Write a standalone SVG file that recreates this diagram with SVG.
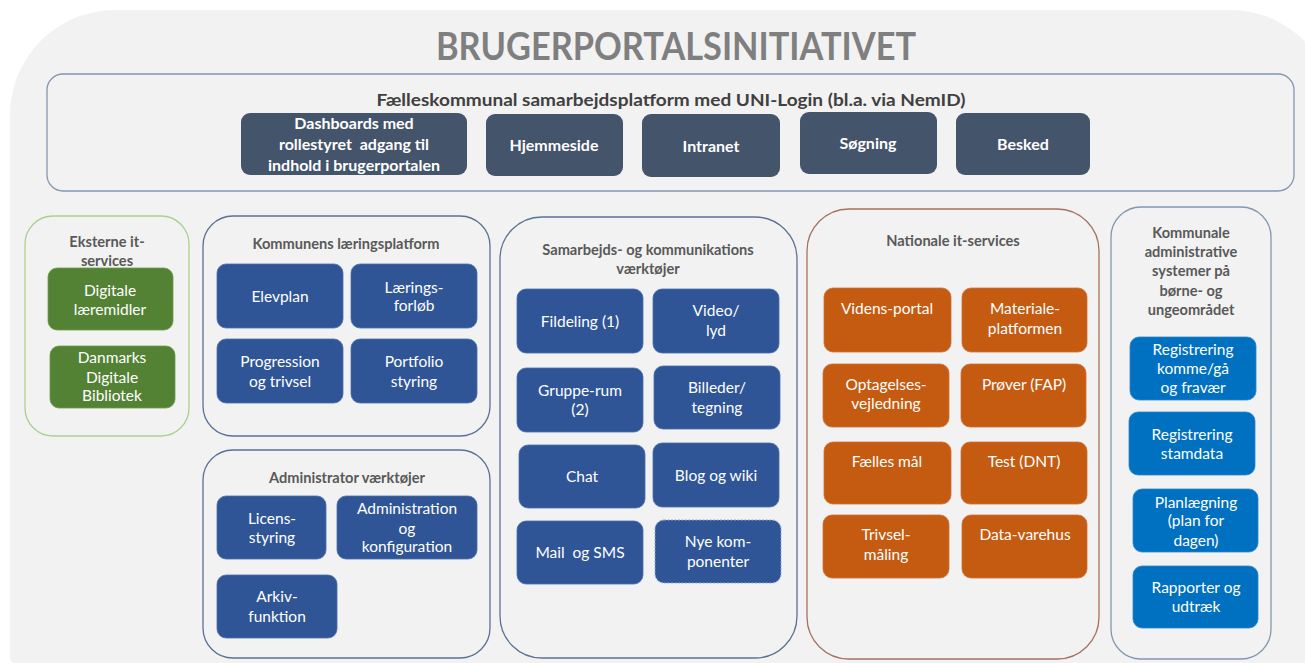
<svg xmlns="http://www.w3.org/2000/svg" width="1305" height="663" viewBox="0 0 1305 663">
<style>
.nt{font-family:Lato,"Liberation Sans",sans-serif;font-size:15.5px;fill:#ffffff;text-anchor:middle}
.tb{font-weight:bold;font-size:16px}
.pre{white-space:pre}
.gt{font-family:Lato,"Liberation Sans",sans-serif;font-size:14.6px;font-weight:bold;fill:#595959;text-anchor:middle}
.dark{fill:#44546a}
.blue{fill:#2f5597;stroke:#4a6eae;stroke-width:0.8}
.green{fill:#548235;stroke:#6a9a48;stroke-width:0.8}
.orange{fill:#c55a11;stroke:#d0703a;stroke-width:0.8}
.lblue{fill:#0070c0;stroke:#2a86cc;stroke-width:0.8}
.grp{fill:none;stroke-width:1.3}
</style>
<rect width="1305" height="663" fill="#ffffff"/>
<path d="M10,115 A105,105 0 0 1 115,10 L1230,10 A105,105 0 0 1 1335,115 L1335,663 L16,663 Q10,663 10,657 Z" fill="#f2f2f2"/>
<text x="676" y="60" font-family="Lato,'Liberation Sans',sans-serif" font-size="38" font-weight="bold" fill="#7f7f7f" text-anchor="middle" textLength="480" lengthAdjust="spacingAndGlyphs">BRUGERPORTALSINITIATIVET</text>

<g id="top-platform">
<rect x="47" y="74" width="1247" height="117" rx="16" class="grp" stroke="#8497b0"/>
<text x="671" y="106" font-family="Lato,'Liberation Sans',sans-serif" font-size="17" font-weight="bold" fill="#404040" text-anchor="middle" textLength="589" lengthAdjust="spacingAndGlyphs">Fælleskommunal samarbejdsplatform med UNI-Login (bl.a. via NemID)</text>
</g>
<g id="n-dashboards"><rect x="241" y="113" width="226" height="62" rx="9" class="dark"/>
<text class="nt tb pre"><tspan x="354" y="129">Dashboards med</tspan><tspan x="354" y="150">rollestyret  adgang til</tspan><tspan x="354" y="171">indhold i brugerportalen</tspan></text></g>
<g id="n-hjemmeside"><rect x="486" y="114" width="137" height="62" rx="9" class="dark"/><text class="nt tb" x="554" y="151">Hjemmeside</text></g>
<g id="n-intranet"><rect x="642" y="114" width="138" height="63" rx="9" class="dark"/><text class="nt tb" x="711" y="152">Intranet</text></g>
<g id="n-soegning"><rect x="800" y="112" width="137" height="62" rx="9" class="dark"/><text class="nt tb" x="868" y="149">Søgning</text></g>
<g id="n-besked"><rect x="956" y="113" width="134" height="62" rx="9" class="dark"/><text class="nt tb" x="1023" y="150">Besked</text></g>

<g id="g-eksterne">
<rect x="25" y="216" width="164" height="220" rx="28" class="grp" stroke="#a9d18e"/>
<text class="gt"><tspan x="107" y="247">Eksterne it-</tspan><tspan x="107" y="266">services</tspan></text>
</g>
<g id="n-digitale"><rect x="48" y="268" width="125" height="62" rx="9" class="green"/><text class="nt"><tspan x="110" y="296">Digitale</tspan><tspan x="110" y="315">læremidler</tspan></text></g>
<g id="n-danmarks"><rect x="50" y="346" width="125" height="62" rx="9" class="green"/><text class="nt"><tspan x="112" y="363">Danmarks</tspan><tspan x="112" y="383">Digitale</tspan><tspan x="112" y="401">Bibliotek</tspan></text></g>

<g id="g-kommunens">
<rect x="203" y="216" width="287" height="220" rx="30" class="grp" stroke="#5b7194"/>
<text class="gt" x="346" y="249">Kommunens læringsplatform</text>
</g>
<g id="n-elevplan"><rect x="217" y="264" width="126" height="64" rx="9" class="blue"/><text class="nt" x="280" y="302">Elevplan</text></g>
<g id="n-laerings"><rect x="351" y="264" width="126" height="64" rx="9" class="blue"/><text class="nt"><tspan x="414" y="293">Lærings-</tspan><tspan x="414" y="311">forløb</tspan></text></g>
<g id="n-progression"><rect x="217" y="339" width="126" height="64" rx="9" class="blue"/><text class="nt"><tspan x="280" y="367">Progression</tspan><tspan x="280" y="387">og trivsel</tspan></text></g>
<g id="n-portfolio"><rect x="351" y="339" width="126" height="64" rx="9" class="blue"/><text class="nt"><tspan x="414" y="367">Portfolio</tspan><tspan x="414" y="387">styring</tspan></text></g>

<g id="g-admin">
<rect x="203" y="450" width="287" height="208" rx="30" class="grp" stroke="#5b7194"/>
<text class="gt" x="347" y="483">Administrator værktøjer</text>
</g>
<g id="n-licens"><rect x="217" y="496" width="109" height="63" rx="9" class="blue"/><text class="nt"><tspan x="272" y="524">Licens-</tspan><tspan x="272" y="543">styring</tspan></text></g>
<g id="n-administration"><rect x="337" y="496" width="140" height="63" rx="9" class="blue"/><text class="nt"><tspan x="407" y="514">Administration</tspan><tspan x="407" y="534">og</tspan><tspan x="407" y="552">konfiguration</tspan></text></g>
<g id="n-arkiv"><rect x="217" y="575" width="120" height="63" rx="9" class="blue"/><text class="nt"><tspan x="277" y="602">Arkiv-</tspan><tspan x="277" y="622">funktion</tspan></text></g>

<g id="g-samarbejds">
<rect x="500" y="217" width="297" height="441" rx="42" class="grp" stroke="#5b7194"/>
<text class="gt"><tspan x="648" y="255">Samarbejds- og kommunikations</tspan><tspan x="648" y="274">værktøjer</tspan></text>
</g>
<g id="n-fildeling"><rect x="517" y="289" width="126" height="64" rx="9" class="blue"/><text class="nt" x="580" y="327">Fildeling (1)</text></g>
<g id="n-video"><rect x="653" y="289" width="126" height="64" rx="9" class="blue"/><text class="nt"><tspan x="716" y="316">Video/</tspan><tspan x="716" y="336">lyd</tspan></text></g>
<g id="n-gruppe"><rect x="517" y="368" width="126" height="64" rx="9" class="blue"/><text class="nt"><tspan x="580" y="396">Gruppe-rum</tspan><tspan x="580" y="415">(2)</tspan></text></g>
<g id="n-billeder"><rect x="654" y="366" width="126" height="63" rx="9" class="blue"/><text class="nt"><tspan x="717" y="393">Billeder/</tspan><tspan x="717" y="413">tegning</tspan></text></g>
<g id="n-chat"><rect x="519" y="445" width="126" height="63" rx="9" class="blue"/><text class="nt" x="582" y="482">Chat</text></g>
<g id="n-blog"><rect x="653" y="443" width="126" height="64" rx="9" class="blue"/><text class="nt" x="716" y="481">Blog og wiki</text></g>
<g id="n-mail"><rect x="517" y="521" width="126" height="63" rx="9" class="blue"/><text class="nt pre" x="580" y="558">Mail  og SMS</text></g>
<g id="n-nye"><rect x="655" y="520" width="126" height="63" rx="9" fill="#2f5597" stroke="#8fa9d6" stroke-width="1" stroke-dasharray="2,1.5"/><text class="nt"><tspan x="718" y="547">Nye kom-</tspan><tspan x="718" y="567">ponenter</tspan></text></g>

<g id="g-nationale">
<rect x="807" y="209" width="292" height="450" rx="42" class="grp" stroke="#a5735c"/>
<text class="gt" x="953" y="246">Nationale it-services</text>
</g>
<g id="n-videns"><rect x="824" y="288" width="127" height="64" rx="9" class="orange"/><text class="nt" x="887" y="314">Videns-portal</text></g>
<g id="n-materiale"><rect x="962" y="288" width="125" height="64" rx="9" class="orange"/><text class="nt"><tspan x="1025" y="314">Materiale-</tspan><tspan x="1025" y="334">platformen</tspan></text></g>
<g id="n-optagelses"><rect x="823" y="364" width="126" height="63" rx="9" class="orange"/><text class="nt"><tspan x="886" y="390">Optagelses-</tspan><tspan x="886" y="409">vejledning</tspan></text></g>
<g id="n-proever"><rect x="961" y="364" width="125" height="63" rx="9" class="orange"/><text class="nt" x="1024" y="390">Prøver (FAP)</text></g>
<g id="n-faelles"><rect x="824" y="442" width="127" height="62" rx="9" class="orange"/><text class="nt" x="887" y="467">Fælles mål</text></g>
<g id="n-test"><rect x="961" y="442" width="126" height="62" rx="9" class="orange"/><text class="nt" x="1024" y="467">Test (DNT)</text></g>
<g id="n-trivsel"><rect x="823" y="515" width="126" height="63" rx="9" class="orange"/><text class="nt"><tspan x="886" y="540">Trivsel-</tspan><tspan x="886" y="560">måling</tspan></text></g>
<g id="n-datavarehus"><rect x="962" y="515" width="125" height="63" rx="9" class="orange"/><text class="nt" x="1025" y="540">Data-varehus</text></g>

<g id="g-kommunale">
<rect x="1111" y="207" width="160" height="452" rx="30" class="grp" stroke="#8497b0"/>
<text class="gt"><tspan x="1191" y="238">Kommunale</tspan><tspan x="1191" y="257">administrative</tspan><tspan x="1191" y="276">systemer på</tspan><tspan x="1191" y="296">børne- og</tspan><tspan x="1191" y="315">ungeområdet</tspan></text>
</g>
<g id="n-reg-komme"><rect x="1130" y="337" width="126" height="63" rx="9" class="lblue"/><text class="nt"><tspan x="1193" y="355">Registrering</tspan><tspan x="1193" y="374">komme/gå</tspan><tspan x="1193" y="393">og fravær</tspan></text></g>
<g id="n-reg-stamdata"><rect x="1129" y="412" width="126" height="63" rx="9" class="lblue"/><text class="nt"><tspan x="1192" y="440">Registrering</tspan><tspan x="1192" y="459">stamdata</tspan></text></g>
<g id="n-planlaegning"><rect x="1133" y="489" width="125" height="63" rx="9" class="lblue"/><text class="nt"><tspan x="1196" y="508">Planlægning</tspan><tspan x="1196" y="526">(plan for</tspan><tspan x="1196" y="546">dagen)</tspan></text></g>
<g id="n-rapporter"><rect x="1133" y="566" width="125" height="62" rx="9" class="lblue"/><text class="nt"><tspan x="1196" y="593">Rapporter og</tspan><tspan x="1196" y="612">udtræk</tspan></text></g>

<g id="connectors"></g>
</svg>
